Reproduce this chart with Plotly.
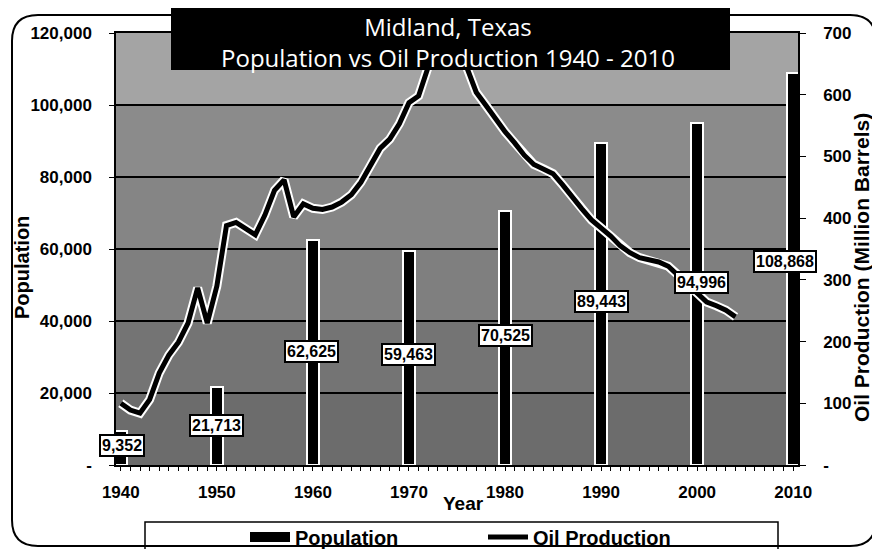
import plotly.graph_objects as go

# ---------------- data ----------------
pop_years = [1940, 1950, 1960, 1970, 1980, 1990, 2000, 2010]
population = [9352, 21713, 62625, 59463, 70525, 89443, 94996, 108868]
pop_labels = ["9,352", "21,713", "62,625", "59,463", "70,525", "89,443", "94,996", "108,868"]

oil_years = list(range(1940, 2005))
oil_production = [
    100, 89, 84, 106, 149, 178, 199, 230, 287, 230,   # 1940-1949
    290, 388, 393, 382, 373, 405, 445, 462, 402, 423,  # 1950-1959
    416, 414, 418, 426, 438, 458, 486, 513, 528, 553,  # 1960-1969
    587, 598, 645, 672, 680, 670, 645, 604, 583, 560,  # 1970-1979
    540, 522, 502, 487, 480, 472, 454, 433, 415, 397,  # 1980-1989
    384, 371, 355, 344, 336, 332, 329, 322, 308, 292,  # 1990-1999
    279, 264, 258, 251, 240,                           # 2000-2004
]

left_ticks = [0, 20000, 40000, 60000, 80000, 100000, 120000]
left_ticktext = ["-", "20,000", "40,000", "60,000", "80,000", "100,000", "120,000"]
right_ticks = [0, 100, 200, 300, 400, 500, 600, 700]
right_ticktext = ["-", "100", "200", "300", "400", "500", "600", "700"]
x_ticks = [1940, 1950, 1960, 1970, 1980, 1990, 2000, 2010]

title_lines = ["Midland, Texas", "Population vs Oil Production 1940 - 2010"]

# label placement (layout only)
label_x = [1940.1, 1950.0, 1959.9, 1970.0, 1980.0, 1990.0, 2000.5, 2009.1]
label_y = [5300, 11100, 31400, 30600, 36100, 45300, 50800, 56400]

# ---------------- geometry helpers ----------------
W, H = 880, 549
OFF = 8  # page body margin
PL, PT, PW, PH = 116, 33, 682, 432  # plot area in page pixels
ML, MT = PL - OFF, PT - OFF
MR, MB = W - ML - PW, H - MT - PH


def fx(px):
    return (px - PL) / PW


def fy(py):
    return (PT + PH - py) / PH


FONT = "Liberation Sans, Arial, sans-serif"
TFONT = "Open Sans, Lato, sans-serif"

fig = go.Figure()

fig.add_trace(go.Bar(
    x=pop_years, y=population, name="Population", showlegend=False,
    width=1.2, marker=dict(color="black", line=dict(color="white", width=2)),
    yaxis="y",
))
# legend swatch for population (wide block like the original)
fig.add_trace(go.Scatter(
    x=[None], y=[None], mode="lines", name="Population",
    line=dict(color="black", width=10), yaxis="y",
))
fig.add_trace(go.Scatter(
    x=oil_years, y=oil_production, mode="lines", showlegend=False,
    line=dict(color="white", width=9), yaxis="y2", hoverinfo="skip",
))
fig.add_trace(go.Scatter(
    x=oil_years, y=oil_production, mode="lines", name="Oil Production",
    line=dict(color="black", width=5), yaxis="y2",
))

# background bands (halftone-like greys)
band_colors = ["#6c6c6c", "#747474", "#7f7f7f", "#858585", "#8b8b8b", "#a4a4a4"]
shapes = []
for i, c in enumerate(band_colors):
    shapes.append(dict(type="rect", xref="paper", yref="y", x0=0, x1=1,
                       y0=i * 20000, y1=(i + 1) * 20000, fillcolor=c,
                       line=dict(width=0), layer="below"))

# outer rounded border
L, R, T, B, r = 12, 876, 15, 546, 26
path = (f"M {fx(L + r)},{fy(T)} L {fx(R - r)},{fy(T)} Q {fx(R)},{fy(T)} {fx(R)},{fy(T + r)} "
        f"L {fx(R)},{fy(B - r)} Q {fx(R)},{fy(B)} {fx(R - r)},{fy(B)} "
        f"L {fx(L + r)},{fy(B)} Q {fx(L)},{fy(B)} {fx(L)},{fy(B - r)} "
        f"L {fx(L)},{fy(T + r)} Q {fx(L)},{fy(T)} {fx(L + r)},{fy(T)} Z")
shapes.append(dict(type="path", path=path, xref="paper", yref="paper",
                   line=dict(color="black", width=2)))
# legend box
shapes.append(dict(type="rect", xref="paper", yref="paper",
                   x0=fx(145), x1=fx(778), y0=fy(556), y1=fy(522),
                   line=dict(color="black", width=1.5), fillcolor="white", layer="below"))
# title box (covers the plot, like the original)
shapes.append(dict(type="rect", xref="paper", yref="paper",
                   x0=fx(171), x1=fx(730), y0=fy(70), y1=fy(3),
                   line=dict(width=0), fillcolor="black", layer="above"))

annotations = []
for xv, yv, t in zip(label_x, label_y, pop_labels):
    annotations.append(dict(
        x=xv, y=yv, xref="x", yref="y", text=t, showarrow=False,
        font=dict(family=FONT, size=16, color="black", weight="bold"),
        bgcolor="white", bordercolor="black", borderwidth=2, borderpad=1,
    ))

# title text
annotations.append(dict(
    x=fx(448), y=fy(9), xref="paper", yref="paper", text="<br>".join(title_lines),
    showarrow=False, font=dict(family=TFONT, size=24, color="white"),
    xanchor="center", yanchor="top", align="center", borderpad=0,
))

# axis titles
annotations.append(dict(x=fx(22), y=fy(268), xref="paper", yref="paper", text="Population",
                        textangle=-90, showarrow=False, xanchor="center", yanchor="middle",
                        font=dict(family=FONT, size=20, color="black", weight="bold")))
annotations.append(dict(x=fx(861), y=fy(268), xref="paper", yref="paper",
                        text="Oil Production (Million Barrels)", textangle=-90, showarrow=False,
                        xanchor="center", yanchor="middle",
                        font=dict(family=FONT, size=21, color="black", weight="bold")))
annotations.append(dict(x=fx(463), y=fy(504), xref="paper", yref="paper", text="Year",
                        showarrow=False, xanchor="center", yanchor="middle",
                        font=dict(family=FONT, size=19, color="black", weight="bold")))

fig.update_layout(
    width=W, height=H,
    margin=dict(l=ML, r=MR, t=MT, b=MB, autoexpand=False),
    paper_bgcolor="white", plot_bgcolor="#8a8a8a",
    font=dict(family=FONT, size=17, color="black"),
    showlegend=True,
    legend=dict(orientation="h", x=fx(483), xanchor="center", y=fy(537), yanchor="middle",
                bgcolor="rgba(0,0,0,0)", borderwidth=0, itemwidth=40, entrywidth=183,
                font=dict(family=FONT, size=20, color="black", weight="bold")),
    xaxis=dict(range=[1939.5, 2010.5], tickvals=x_ticks, showgrid=False,
               ticks="outside", ticklen=4, tickcolor="black", ticklabelstandoff=7,
               showline=True, linecolor="black", linewidth=1.5, mirror=True,
               tickfont=dict(family=FONT, size=17, weight="bold"),
               minor=dict(dtick=1, ticks="outside", ticklen=4, tickcolor="black", showgrid=False),
               zeroline=False),
    yaxis=dict(range=[0, 120000], tickvals=left_ticks, ticktext=left_ticktext,
               showgrid=True, gridcolor="black", gridwidth=1.5,
               ticks="outside", ticklen=5, tickcolor="black", ticklabelstandoff=14,
               showline=True, linecolor="black", linewidth=1.5,
               tickfont=dict(family=FONT, size=17, weight="bold"), zeroline=False),
    yaxis2=dict(range=[0, 700], tickvals=right_ticks, ticktext=right_ticktext,
                overlaying="y", side="right", showgrid=False,
                ticks="outside", ticklen=6, tickcolor="black", ticklabelstandoff=14,
                showline=True, linecolor="black", linewidth=1.5,
                tickfont=dict(family=FONT, size=17, weight="bold"), zeroline=False),
    shapes=shapes,
    annotations=annotations,
    bargap=0,
)

fig.write_html("out.html")
